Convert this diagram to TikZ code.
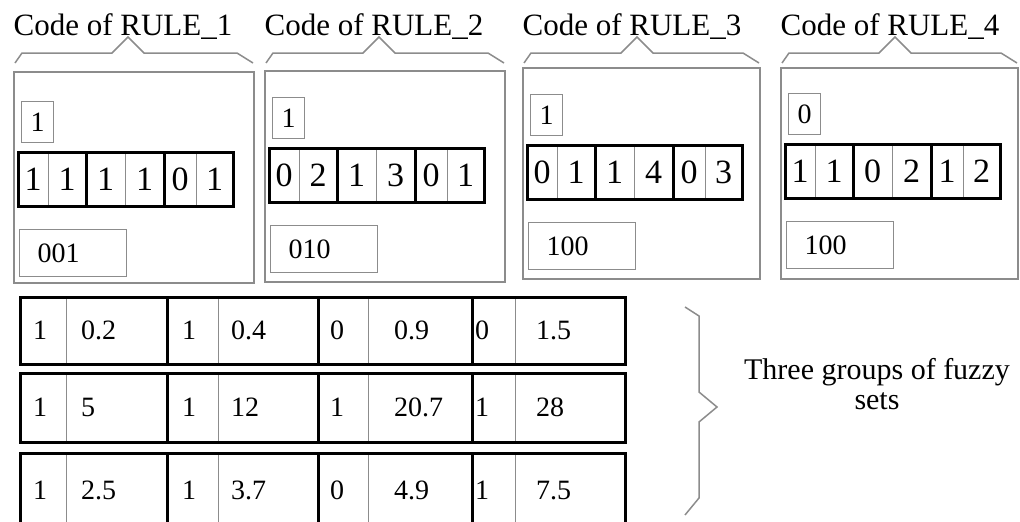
\documentclass[tikz,border=0pt]{standalone}
\usepackage{fontspec}
\setmainfont{Liberation Serif}
\usetikzlibrary{positioning,fit,calc}
\definecolor{rim}{HTML}{8C8C8C}

\begin{document}
\begin{tikzpicture}[x=1pt,y=-1pt,
  head/.style={anchor=base,inner sep=0,font=\fontsize{31pt}{36pt}\selectfont},
  panel/.style={draw=rim,line width=1.5pt,anchor=north west,minimum height=211pt,inner sep=0},
  brace/.style={draw=rim,line width=1.5pt},
  flagbox/.style={draw=rim,line width=1.2pt,anchor=north west,minimum width=32pt,minimum height=41pt,inner sep=0,font=\fontsize{28pt}{30pt}\selectfont},
  cell/.style={draw=rim,line width=1pt,minimum height=54pt,inner sep=0,outer sep=0,font=\fontsize{34pt}{36pt}\selectfont},
  pairbox/.style={draw=black,line width=3pt,inner sep=0},
  codebox/.style={draw=rim,line width=1.2pt,anchor=north west,minimum height=47pt,text width=71pt,inner xsep=18pt,inner ysep=0,align=left,font=\fontsize{28pt}{30pt}\selectfont},
  tcell/.style={draw=rim,line width=1pt,anchor=north west,inner ysep=0,outer sep=0,align=left,font=\fontsize{28pt}{30pt}\selectfont},
  note/.style={align=center,font=\fontsize{30pt}{30pt}\selectfont}]
\clip (0,0) rectangle (1020,522);

% the four rule codes
\foreach \i/\px/\py/\w/\dy/\flag/\da/\db/\dc/\dd/\de/\df/\code in
  {1/13/71/240/3/1/1/1/1/1/0/1/001,
   2/264/70/240/0/1/0/2/1/3/0/1/010,
   3/522/67/237/0/1/0/1/1/4/0/3/100,
   4/780/67/237/-1/0/1/1/0/2/1/2/100}{
  \node[panel,minimum width=\w pt] (p\i) at (\px,\py) {};
  \draw[brace] (\px+2,63) -- (\px+9,53) -- (\px+99,53) -- (\px+115,37)
    -- (\px+131,53) -- (\px+\w-16,53) -- (\px+\w,63);
  \node[head] (h\i) at (\px+110,35) {Code of RULE\_\i};
  \node[flagbox] (f\i) at ([shift={(8,27+\dy)}]p\i.north west) {\flag};
  \foreach \v/\cx/\cw [count=\k] in {\da/15/30,\db/49/38,\dc/87.5/39,\dd/126.5/39,\de/162/32,\df/196.5/37}
    \node[cell,minimum width=\cw pt] (c\i-\k) at ([shift={(5+\cx,105+\dy)}]p\i.north west) {\v};
  \foreach \m/\n in {1/2,3/4,5/6}
    \node[pairbox,fit=(c\i-\m)(c\i-\n)] (g\i-\m) {};
  \node[codebox] (k\i) at ([shift={(6,155+\dy)}]p\i.north west) {\code};
}

% three groups of fuzzy sets
\foreach \r/\k/\fl/\val in {1/1/1/0.2, 1/2/1/0.4, 1/3/0/0.9, 1/4/0/1.5,
                            2/1/1/5, 2/2/1/12, 2/3/1/20.7, 2/4/1/28,
                            3/1/1/2.5, 3/2/1/3.7, 3/3/0/4.9, 3/4/1/7.5}{
  \pgfmathsetmacro\xa{{20,167,318,472}[\k-1]}
  \pgfmathsetmacro\xb{{66,218,368,515}[\k-1]}
  \pgfmathsetmacro\xc{{167,318,472,625}[\k-1]}
  \pgfmathsetmacro\pf{{13,15,12,3}[\k-1]}
  \pgfmathsetmacro\pv{{15,13,26,21}[\k-1]}
  \pgfmathsetmacro\ya{{297,373,453}[\r-1]}
  \pgfmathsetmacro\hh{{67,69,75}[\r-1]}
  \pgfmathsetmacro\tf{\xb-\xa-2*\pf}
  \pgfmathsetmacro\tv{\xc-\xb-2*\pv}
  \node[tcell,inner xsep=\pf pt,text width=\tf pt,minimum height=\hh pt] (t\r-\k) at (\xa,\ya) {\fl};
  \node[tcell,inner xsep=\pv pt,text width=\tv pt,minimum height=\hh pt] (u\r-\k) at (\xb,\ya) {\val};
}
\foreach \r in {1,2,3}
  \foreach \k in {1,2,3,4}
    \node[pairbox,fit=(t\r-\k)(u\r-\k)] (s\r-\k) {};

\draw[brace] (685,307) -- (699,316) -- (699,392) -- (717,407) -- (699,422) -- (699,498) -- (685,515);
\node[note] (grp) at (877,384) {Three groups of fuzzy\\sets};
\end{tikzpicture}
\end{document}
